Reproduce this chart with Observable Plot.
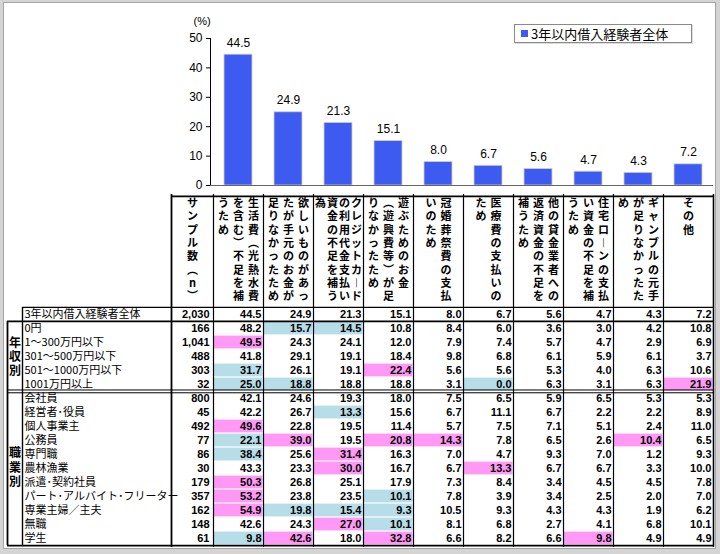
<!DOCTYPE html>
<html><head><meta charset="utf-8">
<script src="https://cdn.jsdelivr.net/npm/d3@7"></script>
<script src="https://cdn.jsdelivr.net/npm/@observablehq/plot@0.6"></script>
<style>
html,body{margin:0;padding:0;background:#fff;}
#wrap{position:relative;width:720px;height:554px;background:#d4d4d4;overflow:hidden;}
#inner{position:absolute;left:3px;top:2px;width:711px;height:545px;background:#fff;border:1px solid #a4a4a4;}
#chart,#table{position:absolute;left:0;}
#chart{top:0;}#table{top:192px;}
#legend{position:absolute;left:514px;top:24px;width:178px;height:19px;border:1px solid #8a8a8a;background:#fff;
  font:13px "Noto Sans CJK JP",sans-serif;color:#000;display:flex;align-items:center;box-sizing:border-box;padding-left:6px;box-shadow:1px 1px 0 #ddd;}
#legend i{display:inline-block;width:7px;height:7px;background:#3d5af1;margin-right:3px;}
</style></head>
<body>
<div id="wrap"><div id="inner"></div><div id="chart"></div><div id="table"></div><div id="legend"></div></div>
<script>
// ---------- data ----------
const categories = [
  "生活費（光熱水費を含む）不足を補うため",
  "欲しいものがあったが手元のお金が足りなかったため",
  "クレジットカードの利用代金支払い資金の不足を補う為",
  "遊ぶためのお金（遊興費等）が足りなかったため",
  "冠婚葬祭費の支払いのため",
  "医療費の支払いのため",
  "他の貸金業者への返済資金の不足を補うため",
  "住宅ローンの支払い資金の不足を補うため",
  "ギャンブルの元手が足りなかったため",
  "その他"
];
const seriesName = "3年以内借入経験者全体";
const overallValues = [44.5, 24.9, 21.3, 15.1, 8.0, 6.7, 5.6, 4.7, 4.3, 7.2];
const overallN = 2030;
const yTicks = [0, 10, 20, 30, 40, 50];
const sampleHeader = "サンプル数（n）";

const incomeGroup = "年収別";
const incomeLabels = ["0円", "1～300万円以下", "301～500万円以下", "501～1000万円以下", "1001万円以上"];
const incomeN = [166, 1041, 488, 303, 32];
const incomeValues = [
  [48.2, 15.7, 14.5, 10.8, 8.4, 6.0, 3.6, 3.0, 4.2, 10.8],
  [49.5, 24.3, 24.1, 12.0, 7.9, 7.4, 5.7, 4.7, 2.9, 6.9],
  [41.8, 29.1, 19.1, 18.4, 9.8, 6.8, 6.1, 5.9, 6.1, 3.7],
  [31.7, 26.1, 19.1, 22.4, 5.6, 5.6, 5.3, 4.0, 6.3, 10.6],
  [25.0, 18.8, 18.8, 18.8, 3.1, 0.0, 6.3, 3.1, 6.3, 21.9]
];
// p = notably high (pink), b = notably low (blue)
const incomeFlags = [".bb.......", "p.........", "..........", "b..p......", "bb...b...p"];

const jobGroup = "職業別";
const jobLabels = ["会社員", "経営者･役員", "個人事業主", "公務員", "専門職", "農林漁業", "派遣･契約社員", "パート･アルバイト･フリーター", "専業主婦／主夫", "無職", "学生"];
const jobN = [800, 45, 492, 77, 86, 30, 179, 357, 162, 148, 61];
const jobValues = [
  [42.1, 24.6, 19.3, 18.0, 7.5, 6.5, 5.9, 6.5, 5.3, 5.3],
  [42.2, 26.7, 13.3, 15.6, 6.7, 11.1, 6.7, 2.2, 2.2, 8.9],
  [49.6, 22.8, 19.5, 11.4, 5.7, 7.5, 7.1, 5.1, 2.4, 11.0],
  [22.1, 39.0, 19.5, 20.8, 14.3, 7.8, 6.5, 2.6, 10.4, 6.5],
  [38.4, 25.6, 31.4, 16.3, 7.0, 4.7, 9.3, 7.0, 1.2, 9.3],
  [43.3, 23.3, 30.0, 16.7, 6.7, 13.3, 6.7, 6.7, 3.3, 10.0],
  [50.3, 26.8, 25.1, 17.9, 7.3, 8.4, 3.4, 4.5, 4.5, 7.8],
  [53.2, 23.8, 23.5, 10.1, 7.8, 3.9, 3.4, 2.5, 2.0, 7.0],
  [54.9, 19.8, 15.4, 9.3, 10.5, 9.3, 4.3, 4.3, 1.9, 6.2],
  [42.6, 24.3, 27.0, 10.1, 8.1, 6.8, 2.7, 4.1, 6.8, 10.1],
  [9.8, 42.6, 18.0, 32.8, 6.6, 8.2, 6.6, 9.8, 4.9, 4.9]
];
const jobFlags = ["..........", "..b.......", "p.........", "bp.pp...p.", "b.p.......", "..p..p....", "p.........", "p..b......", "pbbb......", "..pb......", "bp.p...p.."];

// ---------- styles ----------
const BLUE = "#3d5af1", PINK = "#ff99f5", LBLUE = "#b7dde8";
const NUMFONT = "Liberation Sans, Arial, sans-serif";
const JPFONT = "Noto Sans CJK JP, sans-serif";

// ---------- chart ----------
const bars = categories.map((c, i) => ({cat: c, value: overallValues[i]}));
const chart = Plot.plot({
  width: 720, height: 192,
  marginLeft: 210, marginRight: 7, marginTop: 38, marginBottom: 7,
  style: {fontFamily: NUMFONT, fontSize: "12px", color: "#000", background: "none"},
  x: {type: "band", domain: categories, range: [213, 713], paddingInner: 0.44, paddingOuter: 0.22, axis: null},
  y: {domain: [0, 50], ticks: yTicks, tickSize: 4, tickPadding: 4, label: null, line: true, tickFormat: d => String(d)},
  marks: [
    Plot.barY(bars, {x: "cat", y: "value", fill: BLUE, stroke: "#cfcfcf", strokeWidth: 0.8}),
    Plot.ruleY([0], {stroke: "#666"}),
    Plot.text(bars, {x: "cat", y: "value", text: d => d.value.toFixed(1), dy: -12, fill: "#000"}),
    Plot.text(["(%)"], {text: d => d, frameAnchor: "top-left", dx: -17, dy: -21, fontSize: 11})
  ]
});
document.getElementById("chart").appendChild(chart);
document.getElementById("legend").innerHTML = `<i></i>${seriesName}`;

// ---------- table ----------
const rowDefs = [
  {label: seriesName, n: overallN, values: overallValues, flags: "..........", group: null},
  ...incomeLabels.map((l, i) => ({label: l, n: incomeN[i], values: incomeValues[i], flags: incomeFlags[i], group: incomeGroup})),
  ...jobLabels.map((l, i) => ({label: l, n: jobN[i], values: jobValues[i], flags: jobFlags[i], group: jobGroup}))
];
const rowLabels = rowDefs.map(r => r.label);
const cells = rowDefs.flatMap(r => r.values.map((v, i) => ({row: r.label, col: categories[i], v, f: r.flags[i]})));
const groupRows = rowDefs.filter(r => r.group);

const vertMap = {"（": "︵", "）": "︶", "ー": "︱"};
const vert = s => Array.from(s).map(c => vertMap[c] || c).join("\n");
function wrapVertical(s, per = 8) {
  const ch = Array.from(s), out = [];
  let i = 0;
  while (i < ch.length) {
    let end = Math.min(i + per, ch.length);
    if (end < ch.length && ch[end - 1] === "（") end--;
    out.push(ch.slice(i, end).join(""));
    i = end;
  }
  return out;
}

const BW = 242 / rowLabels.length; // row band height
const headerMarks = [];
categories.forEach(c => {
  const chunks = wrapVertical(c);
  const n = chunks.length;
  const p = n >= 4 ? 12 : 15;
  chunks.forEach((chunk, k) => {
    headerMarks.push(Plot.text([c], {
      x: d => d, text: () => vert(chunk), frameAnchor: "top", dy: 3,
      dx: ((n - 1) / 2 - k) * p, lineAnchor: "top", lineHeight: 1.21,
      fontSize: 11, fontWeight: "bold", fontFamily: JPFONT, fill: "#000"
    }));
  });
});

const LINE = "#000";
const table = Plot.plot({
  width: 720, height: 362,
  marginLeft: 7, marginRight: 7, marginTop: 2, marginBottom: 7,
  style: {fontFamily: NUMFONT, fontSize: "11px", color: "#000", background: "none"},
  x: {type: "band", domain: categories, range: [213, 713], padding: 0, axis: null},
  y: {type: "band", domain: rowLabels, range: [113, 355], padding: 0, axis: null},
  marks: [
    Plot.cell(cells.filter(d => d.f !== "."), {x: "col", y: "row", fill: d => d.f === "p" ? PINK : LBLUE, inset: 0.6}),
    // numbers
    Plot.text(cells, {x: "col", y: "row", text: d => d.v.toFixed(1), textAnchor: "end", dx: 23, fontWeight: "bold", fontSize: 11}),
    Plot.text(rowDefs, {y: "label", text: d => d3.format(",")(d.n), frameAnchor: "left", dx: 202, textAnchor: "end", fontWeight: "bold", fontSize: 11}),
    // row labels
    Plot.text(rowDefs, {y: "label", text: "label", frameAnchor: "left", dx: 17, textAnchor: "start", fontFamily: JPFONT, fontSize: 11}),
    // group labels
    Plot.text([incomeLabels[2]], {y: d => d, text: () => vert(incomeGroup), frameAnchor: "left", textAnchor: "middle", dx: 7.5, lineHeight: 1.18, fontFamily: JPFONT, fontWeight: "bold", fontSize: 12}),
    Plot.text([jobLabels[5]], {y: d => d, text: () => vert(jobGroup), frameAnchor: "left", textAnchor: "middle", dx: 7.5, dy: -1.5, lineHeight: 1.18, fontFamily: JPFONT, fontWeight: "bold", fontSize: 12}),
    // header text
    Plot.text([sampleHeader], {text: d => vert(d), frameAnchor: "top-left", textAnchor: "middle", dx: 185, dy: 3, lineAnchor: "top", lineHeight: 1.21, fontSize: 11, fontWeight: "bold", fontFamily: JPFONT}),
    ...headerMarks,
    // vertical grid lines
    Plot.ruleX(categories, {x: d => d, dx: -25, stroke: LINE, strokeWidth: 1.2}),
    Plot.ruleX([categories[categories.length - 1]], {x: d => d, dx: 25, stroke: LINE, strokeWidth: 1.6}),
    Plot.ruleX([categories[0]], {x: d => d, dx: -67, stroke: LINE, strokeWidth: 1.8}),
    Plot.tickX(rowDefs, {x: () => categories[0], y: "label", dx: -216, stroke: LINE, strokeWidth: 1.4}),
    Plot.tickX(groupRows, {x: () => categories[0], y: "label", dx: -231, stroke: LINE, strokeWidth: 1.8}),
    // horizontal lines
    Plot.ruleY([rowLabels[0]], {y: d => d, dy: -BW / 2 - 111, insetLeft: 164, stroke: LINE, strokeWidth: 1.6}),
    Plot.ruleY([rowLabels[0]], {y: d => d, dy: -BW / 2, insetLeft: 15, stroke: LINE, strokeWidth: 1.2}),
    Plot.ruleY([incomeLabels[0]], {y: d => d, dy: -BW / 2, stroke: LINE, strokeWidth: 1.8}),
    Plot.ruleY([jobLabels[0]], {y: d => d, dy: -BW / 2 - 1.4, stroke: LINE, strokeWidth: 1}),
    Plot.ruleY([jobLabels[0]], {y: d => d, dy: -BW / 2 + 1.4, stroke: LINE, strokeWidth: 1}),
    Plot.ruleY([jobLabels[jobLabels.length - 1]], {y: d => d, dy: BW / 2, stroke: LINE, strokeWidth: 1.8})
  ]
});
document.getElementById("table").appendChild(table);
</script>
</body></html>
